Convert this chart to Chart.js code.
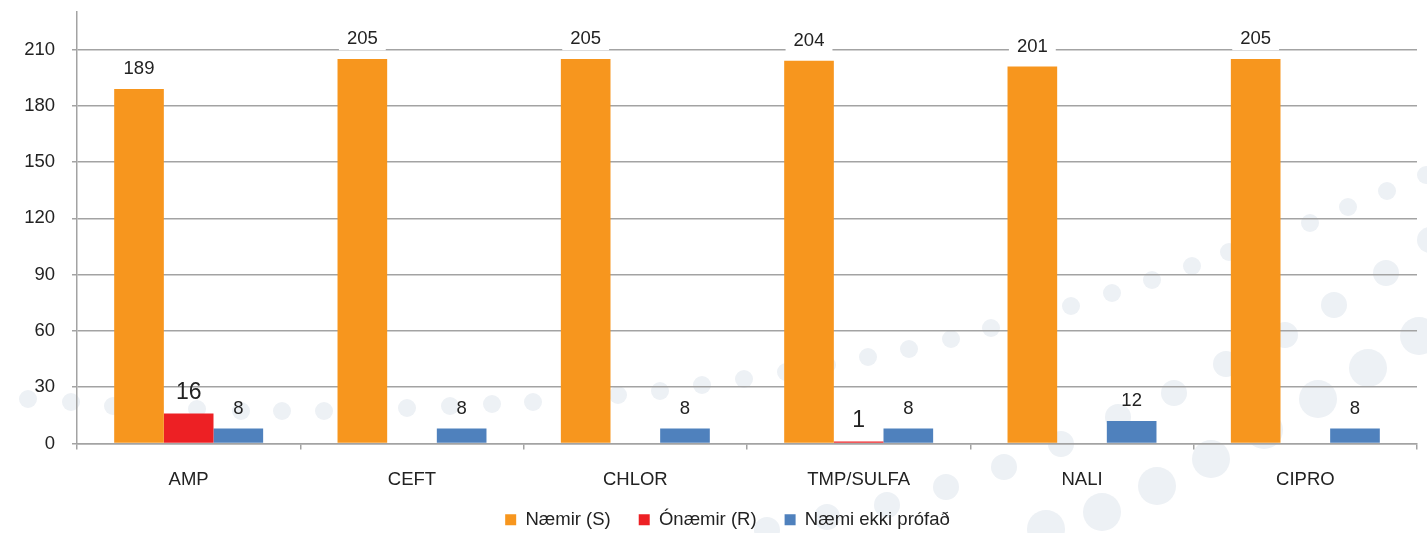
<!DOCTYPE html>
<html>
<head>
<meta charset="utf-8">
<script src="https://cdn.jsdelivr.net/npm/chart.js@4.4.1/dist/chart.umd.min.js"></script>
<style>
  html, body { margin: 0; padding: 0; background: #ffffff; }
  #wrap { width: 1427px; height: 533px; }
</style>
</head>
<body>
<div id="wrap"><canvas id="chart" width="1427" height="533"></canvas></div>
<script>
// Antibiotic categories and counts per result group
const categories = ['AMP', 'CEFT', 'CHLOR', 'TMP/SULFA', 'NALI', 'CIPRO'];
const susceptible = [189, 205, 205, 204, 201, 205];
const resistant = [16, 0, 0, 1, 0, 0];
const notTested = [8, 8, 8, 8, 12, 8];
const seriesNames = ['Næmir (S)', 'Ónæmir (R)', 'Næmi ekki prófað'];
const yTickValues = [0, 30, 60, 90, 120, 150, 180, 210];
const yMax = 230;

const FONT = '"Liberation Sans", Arial, Helvetica, sans-serif';
const TEXT = '#222222';
const GRID = '#a3a3a3';

// Value label look per series
const labelStyles = [
  { size: 18.5, box: true },
  { size: 23, box: false },
  { size: 18.5, box: false }
];

// Faint decorative dots in the page background: [x, y, radius]
const backdropDots = [
  [28,399,9],[71,402,9],[113,406,9],[155,408,9],[197,409,9],[241,411,9],[282,411,9],[324,411,9],
  [366,410,9],[407,408,9],[450,406,9],[492,404,9],[533,402,9],[575,399,9],[618,395,9],[660,391,9],
  [702,385,9],[744,379,9],[786,372,9],[827,365,9],[868,357,9],[909,349,9],[951,339,9],[991,328,9],
  [1031,318,9],[1071,306,9],[1112,293,9],[1152,280,9],[1192,266,9],[1229,252,9],[1268,238,9],
  [1310,223,9],[1348,207,9],[1387,191,9],[1426,175,9],
  [767,530,13],[827,517,13],[887,505,13],[946,487,13],[1004,467,13],[1061,444,13],[1118,417,13],
  [1174,393,13],[1226,364,13],[1285,335,13],[1334,305,13],[1386,273,13],[1430,240,13],
  [1046,529,19],[1102,512,19],[1157,486,19],[1211,459,19],[1264,430,19],[1318,399,19],
  [1368,368,19],[1419,336,19]
];

const backdrop = {
  id: 'backdrop',
  beforeDraw(chart) {
    const ctx = chart.ctx;
    ctx.save();
    ctx.fillStyle = '#ffffff';
    ctx.fillRect(0, 0, chart.width, chart.height);
    ctx.fillStyle = '#edf1f5';
    backdropDots.forEach(([x, y, r]) => {
      ctx.beginPath();
      ctx.arc(x, y, r, 0, Math.PI * 2);
      ctx.fill();
    });
    ctx.restore();
  }
};

// Numbers above each bar
const valueLabels = {
  id: 'valueLabels',
  afterDatasetsDraw(chart) {
    const ctx = chart.ctx;
    const yScale = chart.scales.y;
    chart.data.datasets.forEach((ds, i) => {
      const meta = chart.getDatasetMeta(i);
      const st = labelStyles[i];
      meta.data.forEach((bar, j) => {
        const v = ds.data[j];
        if (!v) return;
        const text = String(v);
        const baseY = yScale.getPixelForValue(v) - 14.5;
        ctx.save();
        ctx.font = st.size + 'px ' + FONT;
        const w = ctx.measureText(text).width;
        if (st.box) {
          const cy = baseY - st.size * 0.36;
          ctx.fillStyle = '#ffffff';
          ctx.fillRect(bar.x - w / 2 - 8, cy - 12.5, w + 16, 25);
        }
        ctx.fillStyle = TEXT;
        ctx.textAlign = 'center';
        ctx.textBaseline = 'alphabetic';
        ctx.fillText(text, bar.x, baseY);
        ctx.restore();
      });
    });
  }
};

// Move the legend row a little right and up
const legendNudge = {
  id: 'legendNudge',
  afterLayout(chart) {
    const lg = chart.legend;
    if (lg) {
      lg.left += 19; lg.right += 19;
      lg.top -= 7; lg.bottom -= 7;
    }
  }
};

Chart.defaults.font.family = FONT;
Chart.defaults.color = TEXT;

new Chart(document.getElementById('chart'), {
  type: 'bar',
  data: {
    labels: categories,
    datasets: [
      { label: seriesNames[0], data: susceptible, backgroundColor: '#f7961e' },
      { label: seriesNames[1], data: resistant, backgroundColor: '#ed2024' },
      { label: seriesNames[2], data: notTested, backgroundColor: '#4f81bd' }
    ]
  },
  options: {
    responsive: false,
    animation: false,
    devicePixelRatio: 1,
    layout: { padding: { top: 12, right: 10, bottom: -13, left: 0 } },
    datasets: {
      bar: { categoryPercentage: 0.667, barPercentage: 1.0, borderWidth: 0 }
    },
    plugins: {
      tooltip: { enabled: false },
      legend: {
        position: 'bottom',
        labels: {
          boxWidth: 11,
          boxHeight: 11,
          padding: 28,
          color: TEXT,
          font: { size: 18.5 }
        }
      }
    },
    scales: {
      x: {
        grid: { drawOnChartArea: false, drawTicks: true, tickLength: 6, color: GRID, lineWidth: 1.5, offset: true },
        border: { color: GRID, width: 1.5 },
        ticks: { padding: 19.5, color: TEXT, font: { size: 18.5 }, maxRotation: 0 },
        afterFit(scale) { scale.height = 46; }
      },
      y: {
        min: 0,
        max: yMax,
        afterBuildTicks(scale) { scale.ticks = yTickValues.map(v => ({ value: v })); },
        afterFit(scale) {
          scale.width = 77;
          scale.paddingTop = 0;
          scale.paddingBottom = 0;
        },
        grid: { color: GRID, lineWidth: 1.5, tickLength: 5, drawTicks: true },
        border: { color: GRID, width: 1.5 },
        ticks: { padding: 17, color: TEXT, font: { size: 18.5 } }
      }
    }
  },
  plugins: [backdrop, valueLabels, legendNudge]
});
</script>
</body>
</html>
